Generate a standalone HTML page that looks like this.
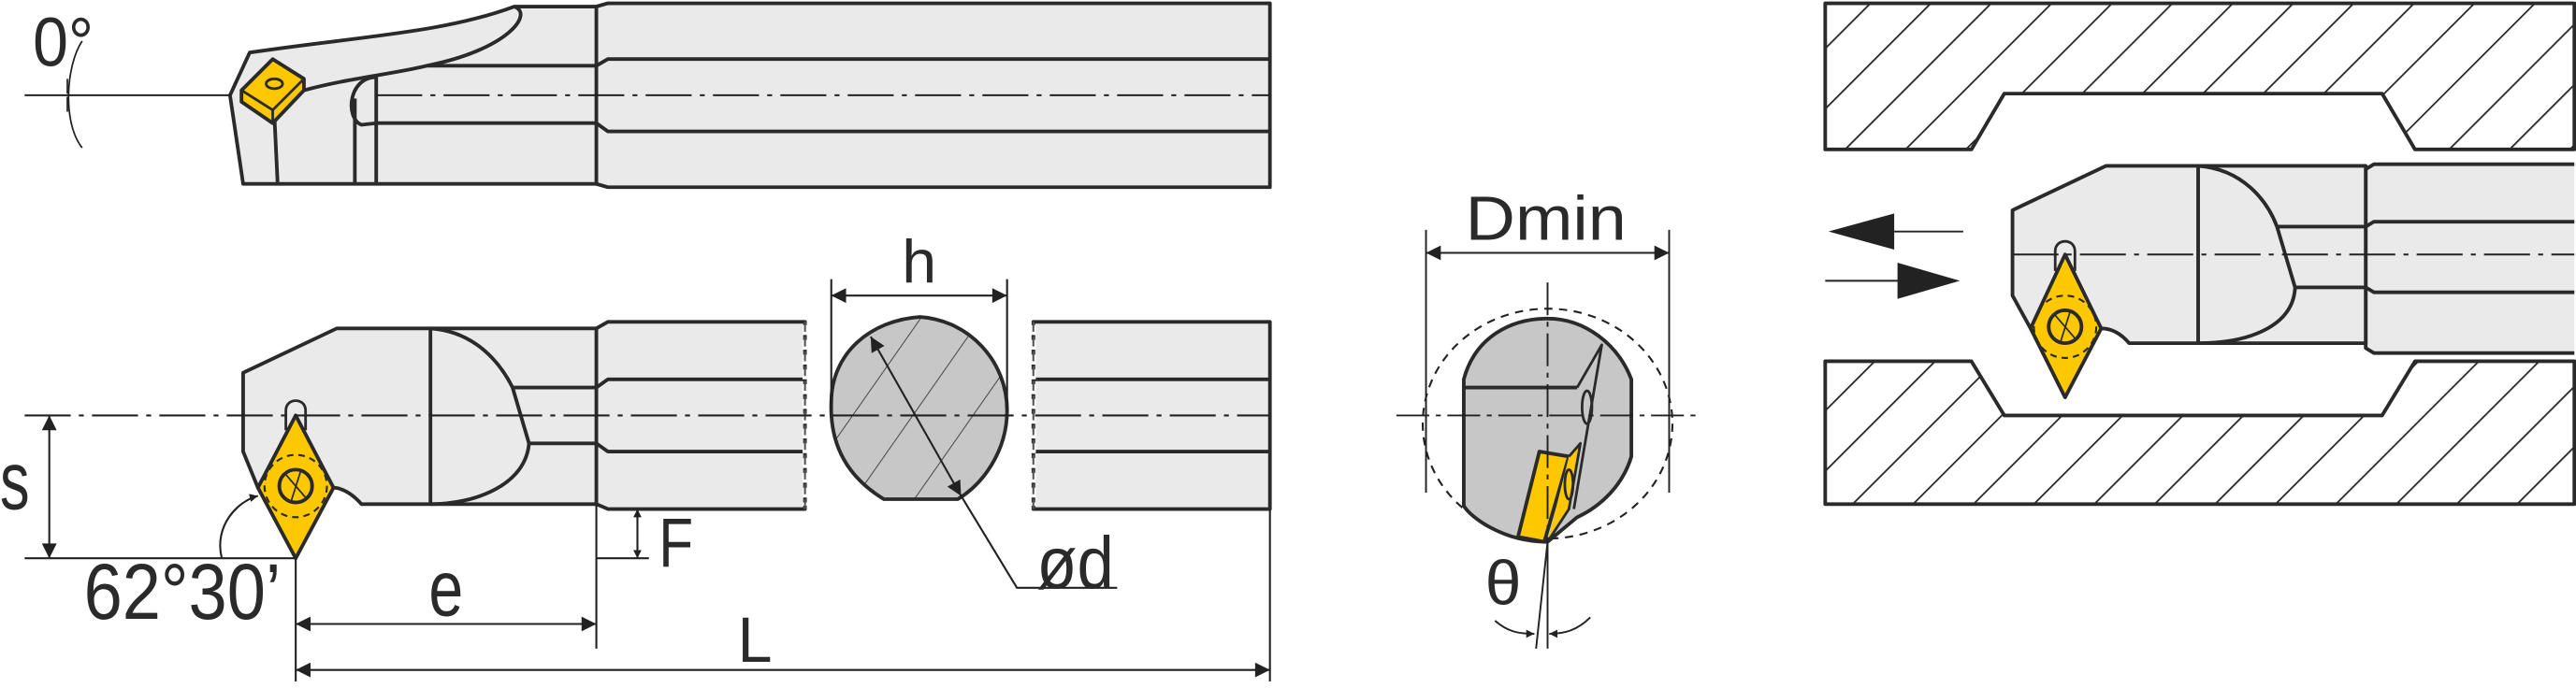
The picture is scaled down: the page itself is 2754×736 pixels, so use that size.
<!DOCTYPE html>
<html><head><meta charset="utf-8"><style>
html,body{margin:0;padding:0;background:#fff;width:2754px;height:736px;overflow:hidden}
svg{display:block}
text{font-family:"Liberation Sans",sans-serif;fill:#2a2a2a}
</style></head><body>
<svg width="2754" height="736" viewBox="0 0 1568 419" preserveAspectRatio="none" xmlns="http://www.w3.org/2000/svg">
<defs>
<pattern id="hat" patternUnits="userSpaceOnUse" width="26" height="26" patternTransform="rotate(45)">
<rect width="26" height="26" fill="#fff"/><line x1="0" y1="0" x2="0" y2="26" stroke="#222" stroke-width="2"/>
</pattern>
<pattern id="hat2" patternUnits="userSpaceOnUse" width="30" height="30" patternTransform="rotate(35)">
<rect width="30" height="30" fill="#c6c7c6"/><line x1="0" y1="0" x2="0" y2="30" stroke="#333" stroke-width="1"/>
</pattern>
<marker id="ar" viewBox="0 0 10 10" refX="10" refY="5" markerWidth="12" markerHeight="9" orient="auto-start-reverse" markerUnits="userSpaceOnUse"><path d="M0,0 L10,5 L0,10z" fill="#222"/></marker>
<marker id="as" viewBox="0 0 10 10" refX="10" refY="5" markerWidth="6" markerHeight="5" orient="auto-start-reverse" markerUnits="userSpaceOnUse"><path d="M0,0 L10,5 L0,10z" fill="#222"/></marker>
</defs>
<g stroke="#2a2a2a" stroke-width="2.2" fill="#e9eae9" stroke-linejoin="round">
<path d="M363,4 L370,2 L773,2 L773,114 L370,114 L363,112 Z"/>
<path d="M152,32 C220,22 270,20 313,4 L363,4 L363,112 L148,112 L140,58 Z"/>
<path d="M363,40 L370,36 L773,36 M363,75 L370,80 L773,80" fill="none"/>
<path d="M260,40 L363,40 M229,75 L363,75" fill="none"/>
<path d="M313,4 C325,8 310,30 260,40 C240,45 210,48 185,55" fill="none"/>
<path d="M229,47 L229,112 M216,60 L216,112 M167,70 L169,112" fill="none"/>
<path d="M229,47 C212,47 210,72 220,76 L229,75" fill="none"/>
<path d="M147,55 L166,36 L185,48 L185,55 L166,75 L147,62 Z" fill="#fdc800"/>
<path d="M147,55 L166,67 L185,48 M166,67 L166,75" fill="none" stroke-width="1.6"/>
<ellipse cx="167" cy="51" rx="5" ry="3" fill="none" stroke-width="1.6"/>
</g>
<g stroke="#222" fill="none">
<line x1="15" y1="58" x2="140" y2="58" stroke-width="1.2"/>
<line x1="229" y1="58" x2="773" y2="58" stroke-width="1.1" stroke-dasharray="28,5,3,5"/>
<path d="M50,25 C40,40 38,75 50,90" stroke-width="1"/>
<path d="M41,48 L41,57 M41,68 L41,59" stroke-width="1"/>
</g>
<text x="20" y="40" font-size="42" textLength="37" lengthAdjust="spacingAndGlyphs">0°</text>

<g stroke="#2a2a2a" stroke-width="2.2" fill="#e9eae9" stroke-linejoin="round">
<path d="M363,200 L370,196 L490,196 L490,310 L370,310 L363,307 Z"/>
<path d="M629,196 L773,196 L773,310 L629,310 Z"/>
<path d="M148,227 L205,200 L363,200 L363,307 L220,307 C212,298 205,297 203,297 L157,297 L148,275 Z"/>
<path d="M312,236 L363,236 L370,231 L490,231 M322,270 L363,270 L370,275 L490,275 M629,231 L773,231 M629,275 L773,275" fill="none"/>
<path d="M262,200 L262,307 M262,200 C290,202 305,222 312,236 L322,270 C320,295 290,307 262,307" fill="none"/>
<path d="M180,253 L203,297 L180,340 L157,297 Z" fill="#fdc800"/>
<circle cx="180" cy="296" r="19" fill="none" stroke-width="1.2" stroke-dasharray="4,3"/>
<circle cx="180" cy="296" r="10" fill="#fdc800"/>
<path d="M174,289 L186,303 M177,306 L183,287" stroke-width="1" fill="none"/>
<path d="M174,262 L174,250 C174,242 186,242 186,250 L186,262" fill="none" stroke-width="1.6"/>
</g>
<g stroke="#fff" stroke-width="3"><line x1="490" y1="198" x2="490" y2="308" stroke-dasharray="6,3"/><line x1="629" y1="198" x2="629" y2="308" stroke-dasharray="6,3"/></g>
<g stroke="#555" stroke-width="1.2"><line x1="490" y1="196" x2="490" y2="310" stroke-dasharray="6,3"/><line x1="629" y1="196" x2="629" y2="310" stroke-dasharray="6,3"/></g>
<path d="M538,304 C515,290 505,270 506,245 C506,215 530,195 560,193 C590,195 613,220 613,250 C613,275 598,295 583,304 Z" fill="url(#hat2)" stroke="#2a2a2a" stroke-width="2.2"/>
<g stroke="#222" fill="none" stroke-width="1.2">
<line x1="15" y1="253" x2="773" y2="253" stroke-dasharray="28,5,3,5"/>
<line x1="15" y1="340" x2="180" y2="340"/>
<line x1="30" y1="253" x2="30" y2="340" marker-start="url(#ar)" marker-end="url(#ar)"/>
<path d="M135,340 C130,320 145,305 157,302" marker-end="url(#as)"/>
<line x1="180" y1="340" x2="180" y2="415"/>
<line x1="363" y1="307" x2="363" y2="395"/>
<line x1="773" y1="310" x2="773" y2="415"/>
<line x1="180" y1="380" x2="363" y2="380" marker-start="url(#ar)" marker-end="url(#ar)"/>
<line x1="180" y1="408" x2="773" y2="408" marker-start="url(#ar)" marker-end="url(#ar)"/>
<line x1="363" y1="340" x2="395" y2="340"/>
<line x1="388" y1="310" x2="388" y2="340" marker-start="url(#as)" marker-end="url(#as)"/>
<line x1="530" y1="205" x2="585" y2="302" marker-start="url(#ar)" marker-end="url(#ar)"/>
<polyline points="585,302 619,358 680,358"/>
<line x1="506" y1="170" x2="506" y2="250"/><line x1="613" y1="170" x2="613" y2="250"/>
<line x1="506" y1="180" x2="613" y2="180" marker-start="url(#ar)" marker-end="url(#ar)"/>
</g>
<text x="0" y="310" font-size="50" textLength="18" lengthAdjust="spacingAndGlyphs">s</text>
<text x="51" y="377" font-size="48" textLength="120" lengthAdjust="spacingAndGlyphs">62°30’</text>
<text x="261" y="375" font-size="48" textLength="21" lengthAdjust="spacingAndGlyphs">e</text>
<text x="449" y="403" font-size="39" textLength="21" lengthAdjust="spacingAndGlyphs">L</text>
<text x="401" y="345" font-size="42" textLength="21" lengthAdjust="spacingAndGlyphs">F</text>
<text x="631" y="358" font-size="45" textLength="47" lengthAdjust="spacingAndGlyphs">ød</text>
<text x="549" y="172" font-size="37" textLength="21" lengthAdjust="spacingAndGlyphs">h</text>

<ellipse cx="942" cy="258" rx="76" ry="70" fill="none" stroke="#222" stroke-width="1.2" stroke-dasharray="5,4"/>
<g stroke="#2a2a2a" stroke-width="2.2" fill="#c6c7c6" stroke-linejoin="round">
<path d="M891,231 C898,205 920,194 942,194 C965,194 985,210 993,231 L993,278 C988,295 975,308 960,315 L942,330 C915,330 895,315 891,308 Z"/>
<line x1="891" y1="236" x2="960" y2="236"/>
<path d="M960,236 L975,210 L958,310" fill="none" stroke-width="1.6"/>
<path d="M937,275 L955,278 L940,330 L924,327 Z" fill="#fdc800"/>
<path d="M955,278 L962,270 L955,310 L942,330" fill="#fdc800" stroke-width="1.6"/>
<ellipse cx="966" cy="248" rx="3" ry="10" fill="none" stroke-width="1.6"/>
<ellipse cx="955" cy="295" rx="2.5" ry="9" fill="none" stroke-width="1.6"/>
</g>
<g stroke="#222" fill="none" stroke-width="1.1">
<line x1="850" y1="253" x2="1034" y2="253" stroke-dasharray="20,4,3,4"/>
<line x1="942" y1="172" x2="942" y2="330" stroke-dasharray="20,4,3,4"/>
<line x1="868" y1="140" x2="868" y2="300"/><line x1="1016" y1="140" x2="1016" y2="300"/>
<line x1="868" y1="154" x2="1016" y2="154" marker-start="url(#ar)" marker-end="url(#ar)"/>
<line x1="942" y1="330" x2="935" y2="395"/><line x1="942" y1="330" x2="942" y2="395"/>
<path d="M910,378 C918,385 925,386 934,386" marker-end="url(#as)"/>
<path d="M968,376 C960,384 952,386 943,386" marker-end="url(#as)"/>
</g>
<text x="892" y="146" font-size="38" textLength="98" lengthAdjust="spacingAndGlyphs">Dmin</text>
<text x="904" y="368" font-size="38" textLength="22" lengthAdjust="spacingAndGlyphs">θ</text>

<g stroke="#2a2a2a" stroke-width="2.2" fill="url(#hat)" stroke-linejoin="round">
<path d="M1111,2 L1567,2 L1567,91 L1470,91 L1450,57 L1220,57 L1200,91 L1111,91 Z"/>
<path d="M1111,220 L1200,220 L1220,253 L1450,253 L1470,220 L1567,220 L1567,307 L1111,307 Z"/>
</g>
<g stroke="#2a2a2a" stroke-width="2.2" fill="#e9eae9" stroke-linejoin="round">
<path d="M1567,100 L1445,100 L1440,103 L1440,212 L1445,215 L1567,215"/>
<path d="M1225,128 L1282,101 L1440,101 L1440,209 L1296,209 C1290,202 1284,200 1279,200 L1236,200 L1225,180 Z"/>
<path d="M1386,138 L1440,138 L1445,135 L1567,135 M1397,175 L1440,175 L1445,178 L1567,178" fill="none"/>
<path d="M1338,101 L1338,209 M1338,101 C1365,103 1380,122 1386,138 L1397,175 C1396,198 1370,209 1338,209" fill="none"/>
<path d="M1257,155 L1279,200 L1257,242 L1236,200 Z" fill="#fdc800"/>
<circle cx="1257" cy="199" r="19" fill="none" stroke-width="1.2" stroke-dasharray="4,3"/>
<circle cx="1257" cy="199" r="10" fill="#fdc800"/>
<path d="M1251,192 L1263,206 M1254,209 L1260,190" stroke-width="1" fill="none"/>
<path d="M1251,165 L1251,153 C1251,145 1263,145 1263,153 L1263,165" fill="none" stroke-width="1.6"/>
</g>
<g stroke="#222" fill="none" stroke-width="1.1">
<line x1="1225" y1="155" x2="1567" y2="155" stroke-dasharray="28,5,3,5"/>
<line x1="1153" y1="141" x2="1195" y2="141"/>
<line x1="1111" y1="171" x2="1160" y2="171"/>
</g>
<path d="M1113,141 L1153,130 L1153,152 Z" fill="#222"/>
<path d="M1193,171 L1155,160 L1155,182 Z" fill="#222"/>
</svg>
</body></html>
